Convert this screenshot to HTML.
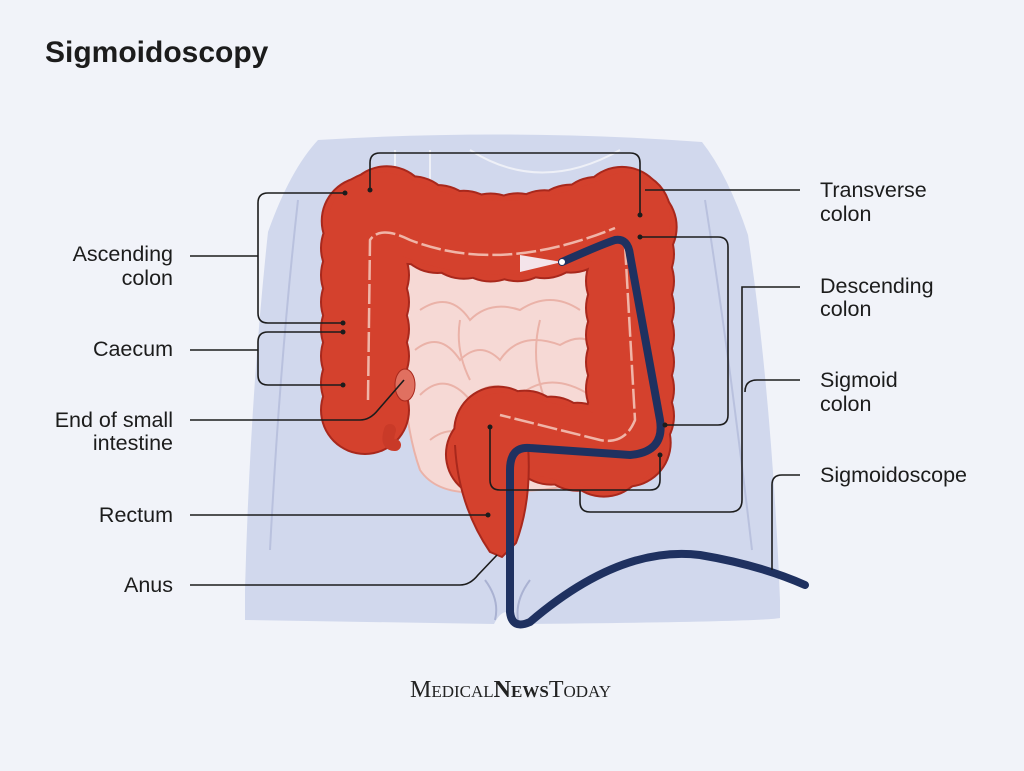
<!DOCTYPE html>
<html><head><style>
body{margin:0;background:#f1f3f9;}
svg{display:block}
text{font-family:"Liberation Sans",sans-serif;font-size:21.5px;fill:#1c1c1c}
</style></head><body>
<svg width="1024" height="771" viewBox="0 0 1024 771">
<rect width="1024" height="771" fill="#f1f3f9"/>
<text x="45" y="62" style="font-size:30px;font-weight:bold">Sigmoidoscopy</text>
<!-- body -->
<path d="M318 140 Q512 128 702 142 Q728 175 748 235 Q772 400 780 600 L780 618 Q760 622 520 624 Q506 600 494 624 L245 620 L245 590 Q250 400 268 232 Q290 170 318 140 Z" fill="#d1d8ed"/>
<path d="M298 200 Q280 360 270 550" stroke="#b9c1de" stroke-width="2" fill="none"/>
<path d="M705 200 Q730 360 752 550" stroke="#b9c1de" stroke-width="2" fill="none"/>
<path d="M395 150 L395 200 M430 150 L430 195 M470 150 Q540 195 620 150" stroke="#eef0f7" stroke-width="2" fill="none"/>
<path d="M485 580 Q500 600 495 620 M530 580 Q515 600 518 620" stroke="#aab2d2" stroke-width="2" fill="none"/>
<!-- small intestine -->
<path d="M405 260 Q400 220 440 230 Q500 190 560 215 Q600 230 605 280 L612 470 Q560 495 500 490 Q440 500 420 470 Q395 400 405 260 Z" fill="#f6d9d5" stroke="#eab2a8" stroke-width="2"/>
<circle cx="533" cy="215" r="22" fill="#f6d9d5" stroke="#eab2a8" stroke-width="2"/>
<g stroke="#eab2a8" stroke-width="2" fill="none">
<path d="M420 310 Q450 290 470 320 Q490 300 520 310 Q550 290 580 310"/>
<path d="M415 350 Q440 330 460 360 Q480 340 500 360 Q520 330 560 345 Q585 330 600 350"/>
<path d="M420 395 Q445 370 470 400 Q490 375 520 395 Q550 370 590 395"/>
<path d="M430 440 Q455 420 480 445 Q505 420 530 440 Q560 420 600 440"/>
<path d="M460 320 Q455 350 470 380 M540 320 Q530 360 545 400 M500 400 Q495 430 510 470"/>
</g>
<!-- colon -->
<g fill="none" stroke-linejoin="round">
<path id="c" d="M365 410 L365 225 Q368 200 400 215 Q500 262 620 212 Q640 200 630 240 L630 425 Q630 458 600 452 L505 430 Q488 428 490 455"/>
<use href="#c" stroke="#a8281c" stroke-width="90" stroke-dasharray="0 27" stroke-linecap="round"/>
<use href="#c" stroke="#a8281c" stroke-width="78"/>
<use href="#c" stroke="#d4412d" stroke-width="86" stroke-dasharray="0 27" stroke-linecap="round"/>
<use href="#c" stroke="#d4412d" stroke-width="74"/>
<path d="M368 400 L370 240 Q380 225 410 240 Q500 275 615 228 M625 245 L635 420 Q625 445 600 440 L500 415" stroke="#f0b5a8" stroke-width="2.5" stroke-dasharray="20 4"/>
</g>
<!-- rectum -->
<path d="M455 445 Q458 505 490 552 L502 557 L516 543 Q532 500 528 445" fill="#d4412d" stroke="#a8281c" stroke-width="2"/>
<rect x="457" y="438" width="70" height="14" fill="#d4412d"/>
<path d="M390 430 Q385 445 395 445" stroke="#c93a28" stroke-width="12" fill="none" stroke-linecap="round"/>
<ellipse cx="405" cy="385" rx="10" ry="16" fill="#e07060" stroke="#a8281c"/>
<path d="M520 255 L562 262 L520 272 Z" fill="#f4e4ea"/>
<!-- scope -->
<path d="M562 262 Q600 245 615 240 Q628 238 630 255 L660 420 Q665 452 630 455 L530 448 Q510 446 510 470 L510 612 Q512 630 530 622 Q620 545 700 555 Q760 565 805 585" stroke="#1f3160" stroke-width="8" fill="none" stroke-linecap="round"/>
<circle cx="562" cy="262" r="3" fill="#fff"/>
<!-- leaders -->
<g stroke="#1c1c1c" stroke-width="1.6" fill="none">
<path d="M190 256 L258 256"/>
<path d="M345 193 L268 193 Q258 193 258 203 L258 313 Q258 323 268 323 L343 323"/>
<path d="M343 332 L268 332 Q258 332 258 342 L258 375 Q258 385 268 385 L343 385"/>
<path d="M190 350 L258 350"/>
<path d="M190 420 L360 420 Q370 420 378 410 L404 380"/>
<path d="M190 515 L488 515"/>
<path d="M190 585 L460 585 Q470 585 478 575 L497 555"/>
<path d="M370 190 L370 163 Q370 153 380 153 L630 153 Q640 153 640 163 L640 215"/>
<path d="M800 190 L645 190"/>
<path d="M640 237 L718 237 Q728 237 728 247 L728 415 Q728 425 718 425 L665 425"/>
<path d="M800 287 L742 287 Q742 287 742 297 L742 500 Q742 512 730 512 L590 512 Q580 512 580 502 L580 490"/>
<path d="M490 425 L490 480 Q490 490 500 490 L650 490 Q660 490 660 480 L660 455"/>
<path d="M800 380 L757 380 Q745 380 745 392"/>
<path d="M800 475 L782 475 Q772 475 772 485 L772 570"/>
</g>
<g fill="#1c1c1c">
<circle cx="345" cy="193" r="2.5"/><circle cx="343" cy="323" r="2.5"/><circle cx="343" cy="332" r="2.5"/><circle cx="343" cy="385" r="2.5"/>
<circle cx="370" cy="190" r="2.5"/><circle cx="640" cy="215" r="2.5"/><circle cx="640" cy="237" r="2.5"/><circle cx="665" cy="425" r="2.5"/>
<circle cx="490" cy="427" r="2.5"/><circle cx="660" cy="455" r="2.5"/><circle cx="488" cy="515" r="2.5"/>
</g>
<g text-anchor="end">
<text x="173" y="261">Ascending</text><text x="173" y="285">colon</text>
<text x="173" y="356">Caecum</text>
<text x="173" y="427">End of small</text><text x="173" y="450">intestine</text>
<text x="173" y="522">Rectum</text>
<text x="173" y="592">Anus</text>
</g>
<text x="820" y="197">Transverse</text><text x="820" y="221">colon</text>
<text x="820" y="293">Descending</text><text x="820" y="316">colon</text>
<text x="820" y="387">Sigmoid</text><text x="820" y="411">colon</text>
<text x="820" y="482">Sigmoidoscope</text>
<text x="410" y="697" style="font-family:'Liberation Serif',serif;font-size:24px;font-variant:small-caps;fill:#222">Medical<tspan font-weight="bold">News</tspan>Today</text>
</svg>
</body></html>
